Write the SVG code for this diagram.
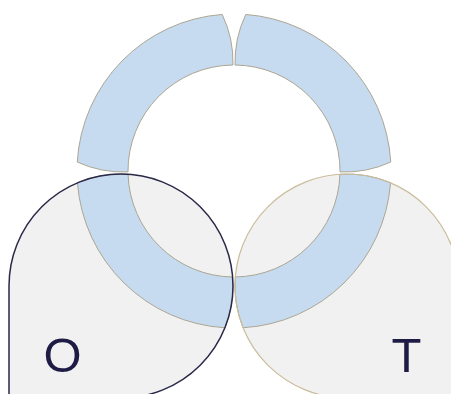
<svg xmlns="http://www.w3.org/2000/svg" xmlns:xlink="http://www.w3.org/1999/xlink" width="451" height="394" viewBox="0 0 451 394">
<style>
.bg{fill:#ffffff}
.blob{fill:#f1f1f1;stroke:none}
.seg{fill:#c6dbf0;stroke:#aca692;stroke-width:1}
.lineO{fill:none;stroke:#2a2948;stroke-width:1.5}
.lineT{fill:none;stroke:#cbbc9c;stroke-width:1.2}
.lbl{font-family:"Liberation Sans",Arial,sans-serif;font-size:49px;fill:#1e1c44;text-anchor:middle}
</style>
<defs>
<path id="shapeO" d="M 9 398 L 9 286 A 112 112 0 1 1 121 398 Z"/>
<path id="shapeT" d="M 459 398 L 459 286 A 112 112 0 1 0 347 398 Z"/>
</defs>
<rect class="bg" x="0" y="0" width="451" height="394"/>
<g id="node-O">
<use xlink:href="#shapeO" href="#shapeO" class="blob"/>
</g>
<g id="node-T">
<use xlink:href="#shapeT" href="#shapeT" class="blob"/>
</g>
<g id="ring">
<path id="seg-top-left" class="seg" d="M 77.25 162.03 A 157 157 0 0 1 222.19 14.43 A 110 110 0 0 1 232.96 65.00 A 106 106 0 0 0 128.0 171.88 A 110 110 0 0 1 77.25 162.03 Z"/>
<path id="seg-top-right" class="seg" d="M 390.75 162.03 A 157 157 0 0 0 245.81 14.43 A 110 110 0 0 0 235.04 65.00 A 106 106 0 0 1 340.0 171.88 A 110 110 0 0 0 390.75 162.03 Z"/>
<path id="seg-bottom-left" class="seg" d="M 77.44 182.81 A 157 157 0 0 0 224.94 327.75 A 112 112 0 0 0 232.63 276.99 A 106 106 0 0 1 128.05 174.23 A 112 112 0 0 0 77.44 182.81 Z"/>
<path id="seg-bottom-right" class="seg" d="M 390.56 182.81 A 157 157 0 0 1 243.06 327.75 A 112 112 0 0 1 235.37 276.99 A 106 106 0 0 0 339.95 174.23 A 112 112 0 0 1 390.56 182.81 Z"/>
</g>
<g id="outlines">
<use xlink:href="#shapeT" href="#shapeT" class="lineT"/>
<use xlink:href="#shapeO" href="#shapeO" class="lineO"/>
</g>
<g id="labels">
<text class="lbl" x="62.5" y="372">O</text>
<text class="lbl" x="406.5" y="372">T</text>
</g>
</svg>
